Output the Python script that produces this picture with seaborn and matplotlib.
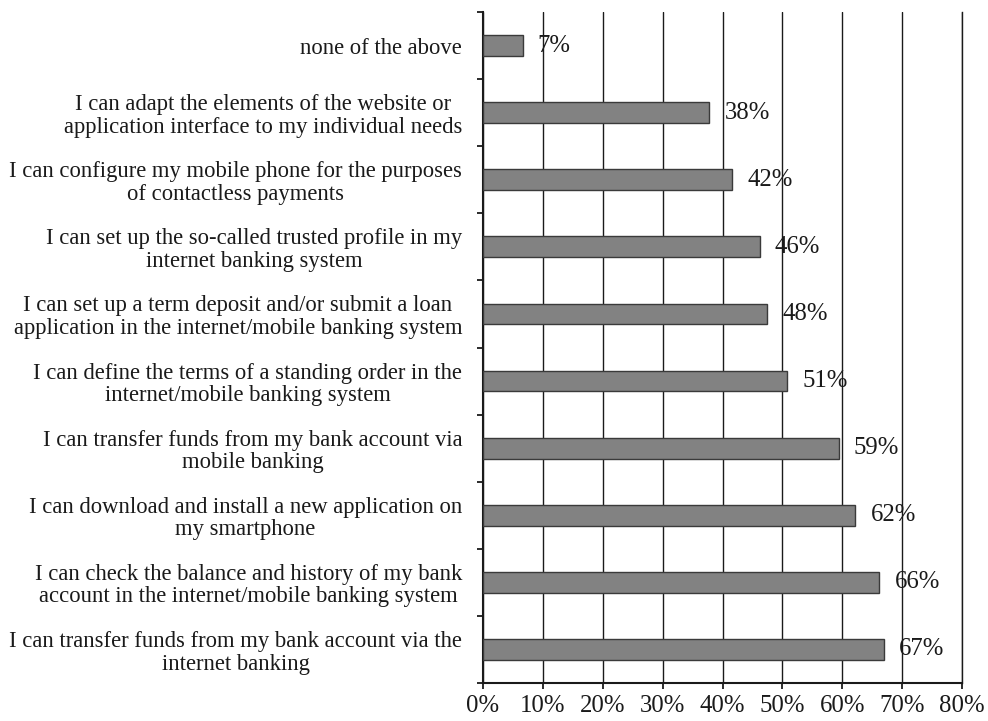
import matplotlib
matplotlib.use("Agg")
import matplotlib.pyplot as plt
import seaborn as sns
import numpy as np
import pandas as pd
from matplotlib.ticker import FixedLocator, PercentFormatter

categories = [
    "none of the above",
    "I can adapt the elements of the website or\napplication interface to my individual needs",
    "I can configure my mobile phone for the purposes\nof contactless payments",
    "I can set up the so-called trusted profile in my\ninternet banking system",
    "I can set up a term deposit and/or submit a loan\napplication in the internet/mobile banking system",
    "I can define the terms of a standing order in the\ninternet/mobile banking system",
    "I can transfer funds from my bank account via\nmobile banking",
    "I can download and install a new application on\nmy smartphone",
    "I can check the balance and history of my bank\naccount in the internet/mobile banking system",
    "I can transfer funds from my bank account via the\ninternet banking",
]
values = [6.6, 37.8, 41.6, 46.2, 47.5, 50.8, 59.4, 62.2, 66.2, 66.9]
value_labels = ["7%", "38%", "42%", "46%", "48%", "51%", "59%", "62%", "66%", "67%"]
x_ticks = [0, 10, 20, 30, 40, 50, 60, 70, 80]

sns.set_style("white")
plt.rcParams["font.family"] = ["Liberation Serif", "DejaVu Serif"]

df = pd.DataFrame({"category": categories, "value": values})

fig = plt.figure(figsize=(9.88, 7.21), dpi=100)
ax = fig.add_axes([483 / 988, 1 - 683 / 721, (962 - 483) / 988, (683 - 12) / 721])

sns.barplot(data=df, x="value", y="category", orient="h", ax=ax,
            color="#828282", saturation=1, width=0.31,
            edgecolor="#3a3a3a", linewidth=1.0, zorder=3)

ax.set_xlim(0, 80)
ax.set_ylim(len(categories) - 0.5, -0.5)
ax.xaxis.set_major_locator(FixedLocator(x_ticks))
ax.xaxis.set_major_formatter(PercentFormatter(decimals=0))
ax.grid(axis="x", color="#1a1a1a", linewidth=1.0, zorder=0)
ax.set_axisbelow(True)
ax.grid(axis="y", visible=False)

ax.spines["top"].set_visible(False)
ax.spines["right"].set_visible(True)
ax.spines["right"].set_color("#1a1a1a")
ax.spines["right"].set_linewidth(1.0)
for s in ["left", "bottom"]:
    ax.spines[s].set_color("#1a1a1a")
    ax.spines[s].set_linewidth(1.5)

ax.set_xlabel("")
ax.set_ylabel("")

FS = 16.3
FS_NUM = 17.8
ax.yaxis.set_minor_locator(FixedLocator(np.arange(-0.5, len(categories), 1.0)))
ax.tick_params(axis="y", which="major", length=0, pad=15, labelsize=FS, labelcolor="#1a1a1a")
ax.tick_params(axis="y", which="minor", left=True, right=False, length=4.5, width=1.3,
               color="#1a1a1a", direction="out")
ax.tick_params(axis="x", which="major", bottom=True, length=4.5, width=1.3, color="#1a1a1a",
               direction="out", pad=4, labelsize=FS_NUM, labelcolor="#1a1a1a")
for lab in ax.get_yticklabels():
    lab.set_horizontalalignment("right")
    lab.set_multialignment("center")
    lab.set_linespacing(1.1)

for i, (v, t) in enumerate(zip(values, value_labels)):
    ax.annotate(t, xy=(v, i), xytext=(11, 0), textcoords="offset points",
                va="center", ha="left", fontsize=FS_NUM, color="#1a1a1a", zorder=4)

fig.savefig("out.png", dpi=100)
